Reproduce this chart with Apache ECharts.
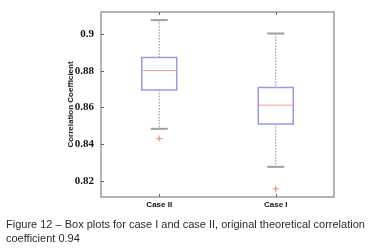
<!DOCTYPE html>
<html>
<head>
<meta charset="utf-8">
<script src="https://cdn.jsdelivr.net/npm/echarts@6/dist/echarts.min.js"></script>
<style>
  html, body { margin: 0; padding: 0; background: #fff; }
  #chart { width: 375px; height: 251px; }
</style>
</head>
<body>
<div id="chart"></div>
<script>
  // categories and box stats [min, Q1, median, Q3, max]
  var categories = ['Case II', 'Case I'];
  var boxData = [
    [0.8484, 0.8696, 0.8802, 0.8873, 0.9076],
    [0.8277, 0.8510, 0.8613, 0.8709, 0.9003]
  ];
  var outliers = [[0, 0.8431], [1, 0.8157]];
  var yTicks = [0.82, 0.84, 0.86, 0.88, 0.9];

  var seriesData = boxData.map(function (d, i) { return [i].concat(d); });

  function renderBox(params, api) {
    var x = api.value(0);
    var band = api.size([1, 0])[0];
    var bw = band * 0.3, cw = band * 0.146;
    var pMin = api.coord([x, api.value(1)]);
    var pQ1 = api.coord([x, api.value(2)]);
    var pMed = api.coord([x, api.value(3)]);
    var pQ3 = api.coord([x, api.value(4)]);
    var pMax = api.coord([x, api.value(5)]);
    var cx = pMed[0];
    var dotted = { stroke: '#8c8c8c', lineWidth: 1, lineDash: [1.5, 1.5] };
    var cap = { stroke: '#a0a0a0', lineWidth: 2 };
    return {
      type: 'group',
      children: [
        { type: 'line', shape: { x1: cx, y1: pMax[1], x2: cx, y2: pQ3[1] }, style: dotted },
        { type: 'line', shape: { x1: cx, y1: pQ1[1], x2: cx, y2: pMin[1] }, style: dotted },
        { type: 'line', shape: { x1: cx - cw / 2, y1: pMax[1], x2: cx + cw / 2, y2: pMax[1] }, style: cap },
        { type: 'line', shape: { x1: cx - cw / 2, y1: pMin[1], x2: cx + cw / 2, y2: pMin[1] }, style: cap },
        { type: 'rect', shape: { x: cx - bw / 2, y: pQ3[1], width: bw, height: pQ1[1] - pQ3[1] },
          style: { fill: 'none', stroke: '#9a9ae0', lineWidth: 1.5 } },
        { type: 'line', shape: { x1: cx - bw / 2, y1: pMed[1], x2: cx + bw / 2, y2: pMed[1] },
          style: { stroke: '#ee9a9a', lineWidth: 1 } }
      ]
    };
  }

  var chart = echarts.init(document.getElementById('chart'));
  chart.setOption({
    animation: false,
    grid: {
      left: 101, right: 41, top: 12, bottom: 54,
      show: true, borderColor: '#9a9a9a', borderWidth: 1.5
    },
    xAxis: [{
      type: 'category',
      data: categories,
      axisLine: { show: false },
      axisTick: { show: true, inside: true, alignWithLabel: true, length: 3, lineStyle: { color: '#666' } },
      axisLabel: { color: '#111', fontFamily: 'Liberation Sans, Arial', fontWeight: 'bold', fontSize: 8, margin: 4 }
    }, {
      type: 'category',
      position: 'top',
      data: categories,
      axisLine: { show: false },
      axisTick: { show: true, inside: true, alignWithLabel: true, length: 3, lineStyle: { color: '#666' } },
      axisLabel: { show: false }
    }],
    yAxis: {
      type: 'value',
      min: 0.8113,
      max: 0.912,
      name: 'Correlation Coefficient',
      nameLocation: 'middle',
      nameRotate: 90,
      nameGap: 26,
      nameMoveOverlap: false,
      nameTextStyle: { color: '#222', fontFamily: 'Liberation Sans, Arial', fontWeight: 'bold', fontSize: 8 },
      splitLine: { show: false },
      axisLine: { show: false },
      axisTick: { show: true, inside: true, length: 3, customValues: yTicks, lineStyle: { color: '#666' } },
      axisLabel: {
        customValues: yTicks,
        color: '#111',
        fontFamily: 'Liberation Serif, Times New Roman',
        fontWeight: 'bold',
        fontSize: 11,
        margin: 7
      }
    },
    series: [{
      type: 'custom',
      xAxisIndex: 0,
      renderItem: renderBox,
      encode: { x: 0, y: [1, 2, 3, 4, 5] },
      data: seriesData
    }, {
      type: 'scatter',
      xAxisIndex: 0,
      symbol: 'path://M4,0 L6,0 L6,4 L10,4 L10,6 L6,6 L6,10 L4,10 L4,6 L0,6 L0,4 L4,4 Z',
      symbolSize: 6,
      itemStyle: { color: '#e57878' },
      data: outliers
    }],
    graphic: [{
      type: 'text',
      left: 6,
      top: 218,
      style: {
        text: 'Figure 12 \u2013 Box plots for case I and case II, original theoretical correlation\ncoefficient 0.94',
        fill: '#2a2a2a',
        font: '11px "Liberation Sans", Arial',
        lineHeight: 14
      }
    }]
  });
</script>
</body>
</html>
